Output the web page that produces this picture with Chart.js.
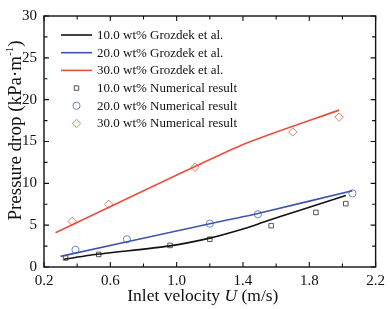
<!DOCTYPE html>
<html><head><meta charset="utf-8">
<script src="https://cdn.jsdelivr.net/npm/chart.js@4/dist/chart.umd.min.js"></script>
<style>html,body{margin:0;padding:0;background:#fff}#c{display:block}</style>
</head><body>
<canvas id="c" width="390" height="309"></canvas>
<script>
const xTicks = [0.2, 0.6, 1.0, 1.4, 1.8, 2.2];
const yTicks = [0, 5, 10, 15, 20, 25, 30];

const labels = ["10.0 wt% Grozdek et al.", "20.0 wt% Grozdek et al.", "30.0 wt% Grozdek et al.",
                "10.0 wt% Numerical result", "20.0 wt% Numerical result", "30.0 wt% Numerical result"];

const grozdek10U = [0.32, 0.53, 0.95, 1.20, 1.41, 1.53, 1.73, 2.02];
const grozdek10P = [0.93, 1.55, 2.50, 3.45, 4.60, 5.40, 6.70, 8.54];
const grozdek20U = [0.30, 1.20, 1.49, 2.06];
const grozdek20P = [1.27, 5.17, 6.40, 9.12];
const grozdek30U = [0.27, 1.39, 1.98];
const grozdek30P = [4.10, 14.55, 18.75];

const num10U = [0.33, 0.53, 0.96, 1.20, 1.57, 1.84, 2.02];
const num10P = [1.08, 1.50, 2.58, 3.32, 4.94, 6.52, 7.57];
const num20U = [0.39, 0.70, 1.20, 1.49, 2.06];
const num20P = [2.05, 3.32, 5.18, 6.30, 8.80];
const num30U = [0.37, 0.59, 1.11, 1.70, 1.98];
const num30P = [5.45, 7.50, 11.93, 16.14, 17.92];

const pts = (u, p) => u.map((v, i) => ({x: v, y: p[i]}));

const cBlack = '#111111', cBlue = '#3d55b0', cRed = '#e6503c';
const mBlack = '#555555', mBlue = '#6a84cc', mRed = '#ee7a6a';
const SERIF = '"Liberation Serif", "Times New Roman", serif';

const lineDs = (l, d, c) => ({type: 'line', label: l, data: d, borderColor: c, borderWidth: 1.6,
  pointRadius: 0, fill: false, tension: 0.2, showLine: true});
const markDs = (l, d, c, s, r) => ({type: 'scatter', label: l, data: d, borderColor: c, backgroundColor: '#ffffff',
  pointStyle: s, pointRadius: r, borderWidth: 1, showLine: false});

const datasets = [
  lineDs(labels[0], pts(grozdek10U, grozdek10P), cBlack),
  lineDs(labels[1], pts(grozdek20U, grozdek20P), cBlue),
  lineDs(labels[2], pts(grozdek30U, grozdek30P), cRed),
  markDs(labels[3], pts(num10U, num10P), mBlack, 'rect', 3.2),
  markDs(labels[4], pts(num20U, num20P), mBlue, 'circle', 3.6),
  markDs(labels[5], pts(num30U, num30P), mRed, 'rectRot', 4.2),
];

const decor = {
  id: 'decor',
  afterDraw(chart) {
    const ctx = chart.ctx, a = chart.chartArea;
    const xs = chart.scales.x, ys = chart.scales.y;
    ctx.save();
    ctx.strokeStyle = '#111'; ctx.lineWidth = 1.4;
    ctx.strokeRect(a.left, a.top, a.right - a.left, a.bottom - a.top);
    ctx.lineWidth = 1.1;
    for (let i = 0; i <= 10; i++) {
      const v = xTicks[0] + i * 0.2;
      const len = i % 2 === 0 ? 5 : 3.5;
      const px = xs.getPixelForValue(v);
      ctx.beginPath();
      ctx.moveTo(px, a.bottom); ctx.lineTo(px, a.bottom - len);
      ctx.moveTo(px, a.top); ctx.lineTo(px, a.top + len);
      ctx.stroke();
    }
    for (let i = 0; i <= 12; i++) {
      const v = i * 2.5;
      const len = i % 2 === 0 ? 5 : 3.5;
      const py = ys.getPixelForValue(v);
      ctx.beginPath();
      ctx.moveTo(a.left, py); ctx.lineTo(a.left + len, py);
      ctx.moveTo(a.right, py); ctx.lineTo(a.right - len, py);
      ctx.stroke();
    }
    // legend
    const rows = [35, 52.7, 70.4, 88.1, 105.8, 123.5];
    ctx.textBaseline = 'middle';
    chart.data.datasets.forEach((ds, i) => {
      const y = rows[i];
      if (ds.type === 'line') {
        ctx.strokeStyle = ds.borderColor; ctx.lineWidth = 1.6;
        ctx.beginPath(); ctx.moveTo(61, y); ctx.lineTo(92, y); ctx.stroke();
      } else {
        ctx.strokeStyle = ds.borderColor; ctx.fillStyle = '#ffffff'; ctx.lineWidth = 1;
        Chart.helpers.drawPoint(ctx, {pointStyle: ds.pointStyle, radius: ds.pointRadius, borderWidth: 1}, 76.5, y);
      }
      ctx.font = '13px ' + SERIF;
      ctx.fillStyle = '#111';
      ctx.fillText(ds.label, 97, y + 0.5);
    });
    // x title
    ctx.fillStyle = '#111';
    ctx.textBaseline = 'alphabetic';
    const fs = 17.5;
    const p1 = 'Inlet velocity ', p3 = ' (m/s)';
    ctx.font = fs + 'px ' + SERIF; const w1 = ctx.measureText(p1).width, w3 = ctx.measureText(p3).width;
    ctx.font = 'italic ' + fs + 'px ' + SERIF; const w2 = ctx.measureText('U').width;
    let x0 = (a.left + a.right) / 2 - 7 - (w1 + w2 + w3) / 2;
    const by = 301;
    ctx.font = fs + 'px ' + SERIF; ctx.fillText(p1, x0, by);
    ctx.font = 'italic ' + fs + 'px ' + SERIF; ctx.fillText('U', x0 + w1, by);
    ctx.font = fs + 'px ' + SERIF; ctx.fillText(p3, x0 + w1 + w2, by);
    // y title
    ctx.save();
    ctx.translate(21, 130.5);
    ctx.rotate(-Math.PI / 2);
    const q1 = 'Pressure drop (kPa·m', q2 = '-1', q3 = ')';
    const fy = 19;
    ctx.font = fy + 'px ' + SERIF; const v1 = ctx.measureText(q1).width, v3 = ctx.measureText(q3).width;
    ctx.font = '11px ' + SERIF; const v2 = ctx.measureText(q2).width;
    let s0 = -(v1 + v2 + v3) / 2;
    ctx.font = fy + 'px ' + SERIF; ctx.fillText(q1, s0, 0);
    ctx.font = '11px ' + SERIF; ctx.fillText(q2, s0 + v1, -8);
    ctx.font = fy + 'px ' + SERIF; ctx.fillText(q3, s0 + v1 + v2, 0);
    ctx.restore();
    ctx.restore();
  }
};

new Chart(document.getElementById('c'), {
  data: {datasets},
  options: {
    responsive: false, animation: false, devicePixelRatio: 1,
    layout: {padding: {top: 8, right: 12, left: 0, bottom: 0}},
    plugins: {legend: {display: false}, tooltip: {enabled: false}},
    scales: {
      x: {type: 'linear', min: 0.2, max: 2.2,
        afterBuildTicks: s => { s.ticks = xTicks.map(v => ({value: v})); },
        afterFit: s => { s.height = 42; },
        grid: {display: false, drawTicks: false},
        border: {display: false},
        ticks: {padding: 5, color: '#111', font: {family: SERIF, size: 15},
          callback: v => Number(v).toFixed(1), maxRotation: 0}},
      y: {type: 'linear', min: 0, max: 30,
        afterBuildTicks: s => { s.ticks = yTicks.map(v => ({value: v})); },
        afterFit: s => { s.width = 44; },
        grid: {display: false, drawTicks: false},
        border: {display: false},
        ticks: {padding: 7, color: '#111', font: {family: SERIF, size: 15}}}
    }
  },
  plugins: [decor]
});
</script>
</body></html>
